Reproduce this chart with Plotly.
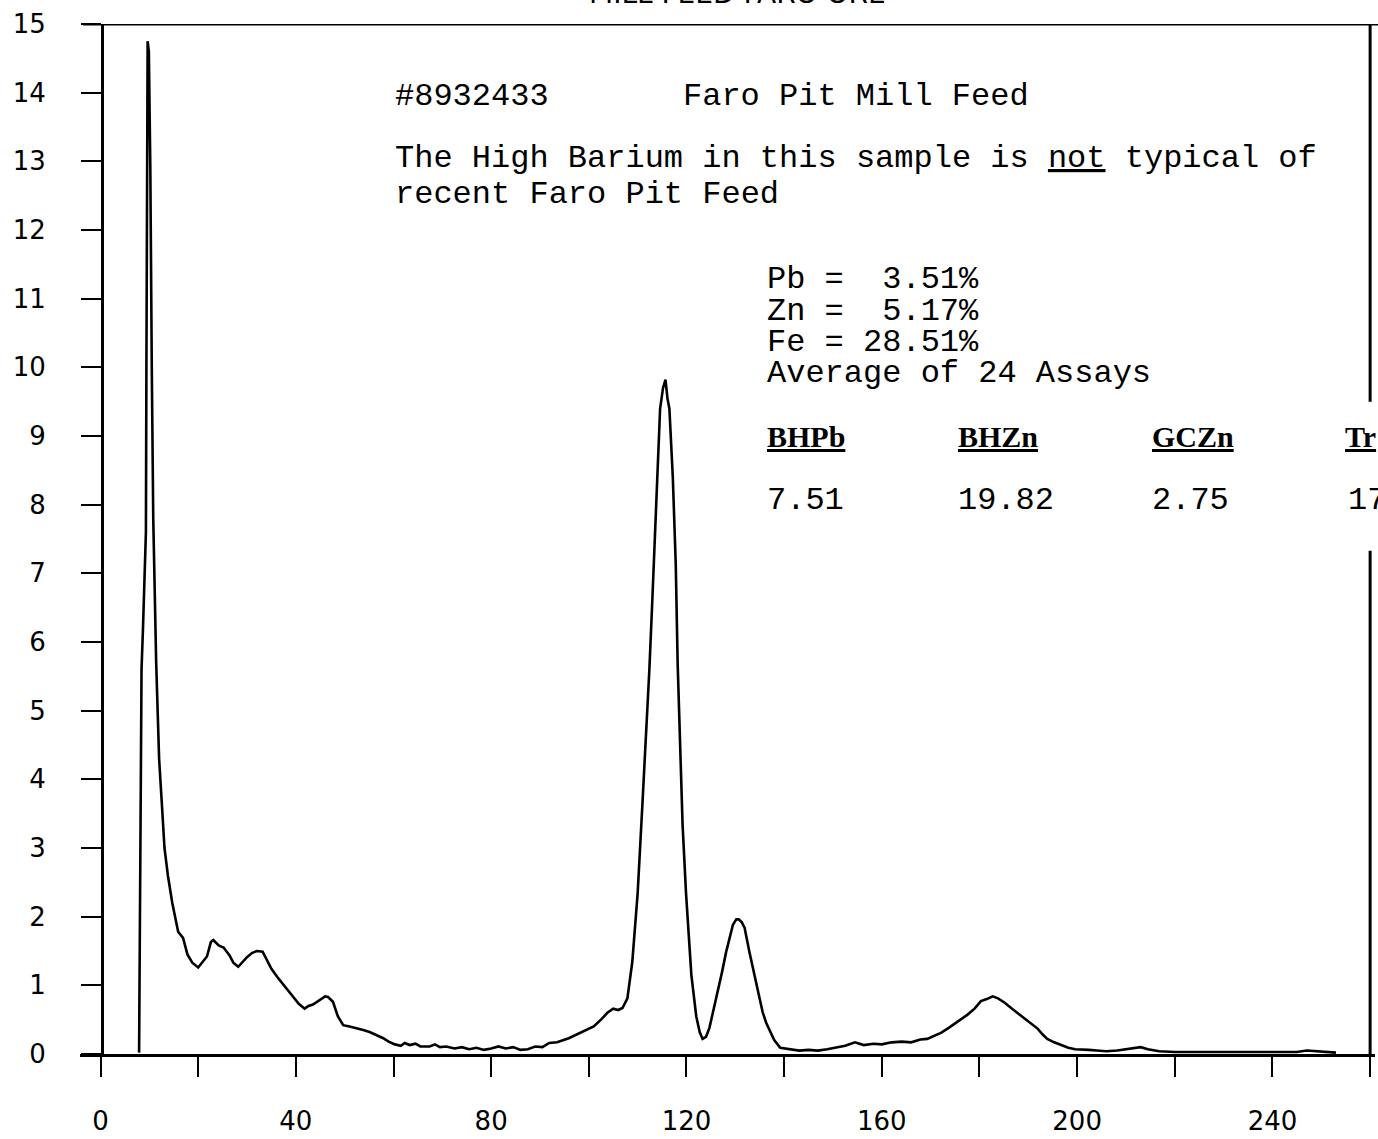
import plotly.graph_objects as go

# ---------------- data ----------------
channel = [7.9, 8.0, 8.2, 8.4, 8.7, 9.0, 9.3, 9.4, 9.5, 9.65, 9.9, 10.2, 10.5, 10.8,
           11.4, 12.0, 12.6, 13.1, 13.8, 14.7, 15.9, 16.9, 17.8, 18.8, 20.0, 21.0,
           21.8, 22.6, 23.1, 24.2, 25.2, 26.4, 27.2, 28.2, 29.2, 30.0, 31.0, 32.0,
           33.2, 34.2, 35.0, 36.2, 37.4, 38.4, 39.4, 40.6, 41.8, 42.6, 43.5, 44.8,
           46.0, 46.6, 47.6, 48.6, 49.7, 51.0, 52.4, 53.8, 55.1, 56.5, 57.9, 59.0,
           60.3, 61.5, 62.3, 63.3, 64.5, 65.5, 67.4, 68.5, 69.5, 70.8, 72.5, 74.0,
           75.5, 77.0, 78.5, 80.0, 81.5, 83.0, 84.5, 86.0, 87.5, 89.0, 90.5, 91.9,
           93.5, 95.9, 97.5, 99.4, 101.0, 102.5, 103.8, 105.0, 106.0, 106.9, 107.9,
           108.9, 110.0, 111.0, 111.8, 112.4, 113.0, 113.6, 114.1, 114.6, 115.2,
           115.7, 116.1, 116.5, 117.2, 117.8, 118.2, 118.7, 119.2, 119.9, 121.0,
           122.0, 122.7, 123.3, 124.0, 124.7, 125.5, 126.4, 127.3, 128.1, 128.8,
           129.5, 130.2, 130.7, 131.3, 131.9, 132.9, 133.6, 134.3, 135.0, 135.6,
           136.3, 137.0, 138.0, 139.2, 141.1, 143.1, 145.0, 146.9, 148.8, 150.5,
           152.5, 154.5, 156.3, 158.3, 160.0, 162.0, 164.1, 166.0, 167.9, 169.3,
           170.7, 172.2, 173.7, 175.5, 177.5, 179.0, 180.3, 181.5, 182.7, 183.8,
           185.1, 187.0, 188.9, 190.4, 191.9, 193.0, 193.9, 195.3, 196.7, 198.2,
           199.6, 201.0, 202.4, 204.0, 206.0, 208.2, 210.1, 211.5, 213.0, 214.5,
           216.8, 220.0, 225.0, 230.0, 235.0, 240.0, 245.0, 247.0, 249.0, 251.0,
           253.0]
counts = [0.02, 1.5, 4.0, 5.6, 6.2, 7.0, 7.6, 10.0, 12.9, 14.75, 14.6, 12.9, 10.0, 7.8,
          5.7, 4.3, 3.6, 3.0, 2.6, 2.2, 1.78, 1.69, 1.45, 1.33, 1.26, 1.35,
          1.42, 1.63, 1.66, 1.58, 1.55, 1.44, 1.33, 1.27, 1.35, 1.41, 1.47, 1.50,
          1.49, 1.35, 1.24, 1.12, 1.01, 0.92, 0.84, 0.73, 0.66, 0.70, 0.72, 0.78,
          0.84, 0.83, 0.76, 0.55, 0.42, 0.40, 0.38, 0.35, 0.32, 0.28, 0.23, 0.18,
          0.14, 0.12, 0.16, 0.13, 0.15, 0.11, 0.11, 0.14, 0.10, 0.11, 0.08, 0.10,
          0.07, 0.09, 0.06, 0.08, 0.11, 0.08, 0.10, 0.06, 0.07, 0.11, 0.10, 0.16,
          0.17, 0.23, 0.28, 0.34, 0.40, 0.50, 0.60, 0.66, 0.64, 0.67, 0.81,
          1.34, 2.34, 3.67, 4.67, 5.60, 6.60, 7.73, 8.40, 9.40, 9.70,
          9.82, 9.55, 9.40, 8.40, 7.14, 5.67, 4.34, 3.34, 2.35, 1.15,
          0.55, 0.32, 0.22, 0.25, 0.38, 0.62, 0.89, 1.20, 1.48, 1.70,
          1.88, 1.96, 1.96, 1.92, 1.84, 1.48, 1.24, 1.01, 0.80, 0.61,
          0.46, 0.35, 0.20, 0.09, 0.07, 0.05, 0.06, 0.05, 0.07, 0.09,
          0.12, 0.17, 0.13, 0.15, 0.14, 0.17, 0.18, 0.17, 0.21, 0.22,
          0.26, 0.31, 0.38, 0.47, 0.57, 0.66, 0.77, 0.80, 0.84, 0.81,
          0.75, 0.64, 0.53, 0.45, 0.37, 0.28, 0.22, 0.17, 0.13, 0.09,
          0.07, 0.07, 0.06, 0.05, 0.04, 0.05, 0.07, 0.09, 0.10, 0.07,
          0.04, 0.03, 0.03, 0.02, 0.03, 0.02, 0.03, 0.05, 0.04, 0.02,
          0.02]

x_ticks = list(range(0, 261, 20))
x_labels = [str(v) if v % 40 == 0 and v <= 240 else "" for v in x_ticks]
y_ticks = list(range(0, 16))
y_labels = [str(v) for v in y_ticks]

title_text = "MILL FEED FARO ORE"
sample_id = "#8932433"
sample_name = "Faro Pit Mill Feed"
note_lines = ["The High Barium in this sample is <u>not</u> typical of",
              "recent Faro Pit Feed"]
assay_lines = ["Pb =\u00a0\u00a03.51%", "Zn =\u00a0\u00a05.17%", "Fe = 28.51%",
               "Average of 24 Assays"]
table_heads = ["BHPb", "BHZn", "GCZn", "Tr"]
table_vals = ["7.51", "19.82", "2.75", "17"]

# ---------------- layout geometry (pixels) ----------------
W, H = 1378, 1139
L, R, T, B = 80, 3, 24, 80
PW, PH = W - L - R, H - T - B


def xp(px):
    return (px - L) / PW


def yp(py):
    return (H - B - py) / PH


fig = go.Figure()
fig.add_trace(go.Scatter(x=channel, y=counts, mode="lines",
                         line=dict(color="black", width=2.6),
                         hoverinfo="skip", showlegend=False))

mono = "Liberation Mono, Courier New, monospace"
anns = []
anns.append(dict(text=title_text, x=xp(737), y=yp(-7), xanchor="center",
                 yanchor="middle", font=dict(family="DejaVu Sans", size=28)))
anns.append(dict(text=sample_id, x=xp(393), y=yp(97), xanchor="left",
                 yanchor="middle", font=dict(family=mono, size=32)))
anns.append(dict(text=sample_name, x=xp(681), y=yp(97), xanchor="left",
                 yanchor="middle", font=dict(family=mono, size=32)))
for i, t in enumerate(note_lines):
    anns.append(dict(text=t, x=xp(393), y=yp(159 + 36 * i), xanchor="left",
                     yanchor="middle", font=dict(family=mono, size=32)))
for i, t in enumerate(assay_lines):
    anns.append(dict(text=t, x=xp(765), y=yp(281 + 31.5 * i), xanchor="left",
                     yanchor="middle", font=dict(family=mono, size=32)))
head_x = [765, 956, 1150, 1343]
for hx, t in zip(head_x, table_heads):
    anns.append(dict(text="<u>" + t + "</u>", x=xp(hx), y=yp(438), xanchor="left",
                     yanchor="middle",
                     font=dict(family="Liberation Serif", size=30, weight="bold")))
val_x = [765, 956, 1150, 1346]
for vx, t in zip(val_x, table_vals):
    anns.append(dict(text=t, x=xp(vx), y=yp(503), xanchor="left",
                     yanchor="middle", font=dict(family=mono, size=32)))
for a in anns:
    a.update(xref="paper", yref="paper", showarrow=False)
    a.setdefault("font", {})
    a["font"]["color"] = "black"

shapes = [
    # top border of the frame
    dict(type="line", xref="paper", yref="y", x0=xp(83), x1=xp(1380), y0=15, y1=15,
         line=dict(color="black", width=3)),
    # right border of the frame (interrupted by the table text)
    dict(type="line", xref="x", yref="y", x0=260, x1=260, y0=9.5, y1=15,
         line=dict(color="black", width=3)),
    dict(type="line", xref="x", yref="y", x0=260, x1=260, y0=0, y1=7.33,
         line=dict(color="black", width=3)),
]

tickfont = dict(family="DejaVu Sans", size=26, color="black")
fig.update_layout(
    width=W, height=H, autosize=False,
    margin=dict(l=L, r=R, t=T, b=B, pad=0),
    paper_bgcolor="white", plot_bgcolor="white",
    showlegend=False,
    annotations=anns,
    shapes=shapes,
    xaxis=dict(range=[-4.2, 261], tickmode="array", tickvals=x_ticks,
               ticktext=x_labels, ticks="outside", ticklen=20, tickwidth=2,
               tickcolor="black", showline=True, linewidth=3, linecolor="black",
               showgrid=False, zeroline=False, tickfont=tickfont,
               ticklabelstandoff=22),
    yaxis=dict(range=[0, 15], tickmode="array", tickvals=y_ticks, ticktext=y_labels,
               anchor="free", position=xp(102), ticks="outside", ticklen=20,
               tickwidth=2, tickcolor="black", showline=True, linewidth=3,
               linecolor="black", showgrid=False, zeroline=False,
               tickfont=tickfont, ticklabelstandoff=30),
)

fig.write_html("out.html")
